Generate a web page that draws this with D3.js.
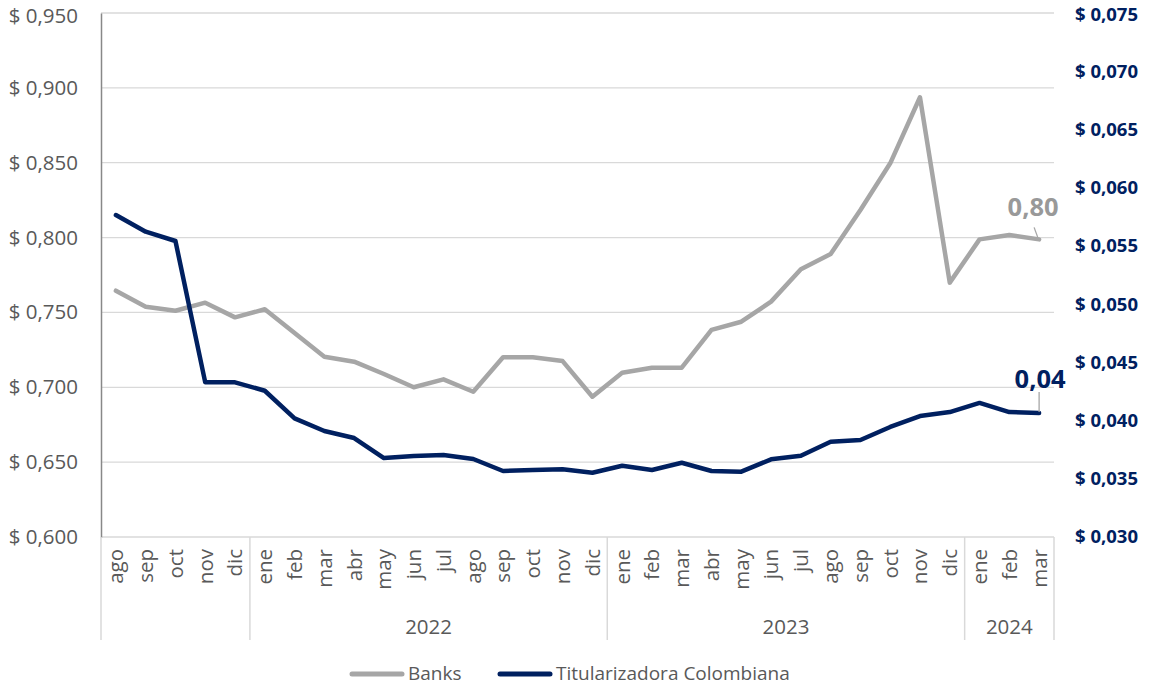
<!DOCTYPE html>
<html>
<head>
<meta charset="utf-8">
<script src="https://cdn.jsdelivr.net/npm/d3@7"></script>
<style>
  html, body { margin: 0; padding: 0; background: #fff; }
  svg { display: block; font-family: Carlito, Calibri, "Open Sans", sans-serif; }
</style>
</head>
<body>
<svg id="chart" width="1152" height="686"></svg>
<script>
// ---- Data ----
const months = ["ago","sep","oct","nov","dic",
  "ene","feb","mar","abr","may","jun","jul","ago","sep","oct","nov","dic",
  "ene","feb","mar","abr","may","jun","jul","ago","sep","oct","nov","dic",
  "ene","feb","mar"];
const yearLabels = ["", "2022", "2023", "2024"];
const yearCounts = [5, 12, 12, 3];
const banks = [0.7645,0.7538,0.7511,0.7565,0.7467,
  0.7521,0.7363,0.7204,0.7171,0.7089,0.7000,0.7053,0.6970,0.7200,0.7200,0.7175,0.6937,
  0.7097,0.7131,0.7131,0.7383,0.7438,0.7572,0.7788,0.7890,0.8184,0.8496,0.8937,0.7699,
  0.7988,0.8017,0.7988];
const titularizadora = [0.05765,0.05622,0.05542,0.04328,0.04328,
  0.04256,0.04019,0.03910,0.03850,0.03678,0.03696,0.03704,0.03670,0.03567,0.03575,0.03581,0.03552,
  0.03612,0.03575,0.03638,0.03567,0.03561,0.03667,0.03698,0.03818,0.03833,0.03945,0.04039,0.04073,
  0.04151,0.04073,0.04065];
const leftTicks = [0.600,0.650,0.700,0.750,0.800,0.850,0.900,0.950];
const rightTicks = [0.030,0.035,0.040,0.045,0.050,0.055,0.060,0.065,0.070,0.075];
const seriesNames = ["Banks", "Titularizadora Colombiana"];
const lastLabels = ["0,80", "0,04"];

// ---- Layout ----
const svg = d3.select("#chart");
const L = 101, R = 1054, T = 13, B = 537;
const colBanks = "#a6a6a6", colTit = "#002060", txt = "#595959", grid = "#d9d9d9";
const fs = 20.5;

const x = d3.scaleBand().domain(d3.range(months.length)).range([L, R]).padding(0);
const yL = d3.scaleLinear().domain([0.600, 0.950]).range([B, T]);
const yR = d3.scaleLinear().domain([0.030, 0.075]).range([B, T]);
const fmt = v => "$ " + d3.format(".3f")(v).replace(".", ",");

// gridlines
svg.append("g").selectAll("line").data(leftTicks).join("line")
  .attr("x1", L).attr("x2", R)
  .attr("y1", d => yL(d)).attr("y2", d => yL(d))
  .attr("stroke", grid).attr("stroke-width", 1.3);

// left axis
const gL = svg.append("g").attr("transform", `translate(${L},0)`)
  .call(d3.axisLeft(yL).tickValues(leftTicks).tickFormat(fmt).tickSize(0).tickPadding(23));
gL.select(".domain").attr("stroke", "#888").attr("stroke-width", 1.5);
gL.selectAll("text").attr("fill", txt).style("font-size", fs + "px").style("font-family", "'Open Sans', sans-serif")
  .attr("dy", d => d === 0.950 ? "0.45em" : "0.32em");

// right axis
const gR = svg.append("g").attr("transform", `translate(${R},0)`)
  .call(d3.axisRight(yR).tickValues(rightTicks).tickFormat(fmt).tickSize(0).tickPadding(21));
gR.select(".domain").remove();
gR.selectAll("text").attr("fill", colTit).style("font-size", "18.5px").style("font-weight", "bold")
  .style("font-family", "'Open Sans', sans-serif")
  .attr("dy", d => d === 0.075 ? "0.42em" : "0.32em");

// category axis separators
const bounds = [0];
yearCounts.reduce((acc, c) => { bounds.push(acc + c); return acc + c; }, 0);
svg.append("g").selectAll("line").data(bounds).join("line")
  .attr("x1", i => i < months.length ? x(i) : R)
  .attr("x2", i => i < months.length ? x(i) : R)
  .attr("y1", B).attr("y2", 640)
  .attr("stroke", grid).attr("stroke-width", 1.5);

// month labels
svg.append("g").selectAll("text").data(months).join("text")
  .attr("transform", (d, i) => `translate(${x(i) + x.bandwidth() / 2},549) rotate(-90)`)
  .attr("text-anchor", "end").attr("dy", "0.36em")
  .attr("fill", txt).style("font-size", fs + "px").style("font-family", "'Open Sans', sans-serif")
  .text(d => d);

// year labels
svg.append("g").selectAll("text").data(yearLabels).join("text")
  .attr("x", (d, k) => {
    const a = bounds[k], b = bounds[k + 1];
    const xa = x(a), xb = b < months.length ? x(b) : R;
    return (xa + xb) / 2;
  })
  .attr("y", 634).attr("text-anchor", "middle")
  .attr("fill", txt).style("font-size", fs + "px").style("font-family", "'Open Sans', sans-serif")
  .text(d => d);

// lines
const cx = i => x(i) + x.bandwidth() / 2;
svg.append("path").datum(banks)
  .attr("d", d3.line().x((d, i) => cx(i)).y(d => yL(d)))
  .attr("fill", "none").attr("stroke", colBanks).attr("stroke-width", 4.5)
  .attr("stroke-linejoin", "round").attr("stroke-linecap", "round");
svg.append("path").datum(titularizadora)
  .attr("d", d3.line().x((d, i) => cx(i)).y(d => yR(d)))
  .attr("fill", "none").attr("stroke", colTit).attr("stroke-width", 4.5)
  .attr("stroke-linejoin", "round").attr("stroke-linecap", "round");

// last data labels with leader lines
const n = months.length - 1;
const xb = cx(n), yb = yL(banks[n]);
svg.append("line").attr("x1", xb - 5).attr("y1", yb - 12).attr("x2", xb - 1).attr("y2", yb - 1)
  .attr("stroke", "#a6a6a6").attr("stroke-width", 1.3);
svg.append("text").attr("x", xb - 6).attr("y", yb - 23).attr("text-anchor", "middle")
  .attr("fill", "#999").style("font-size", "25.5px").style("font-weight", "bold")
  .style("font-family", "'Open Sans', sans-serif").text(lastLabels[0]);
const yt = yR(titularizadora[n]);
svg.append("line").attr("x1", xb).attr("y1", yt - 21).attr("x2", xb).attr("y2", yt - 1)
  .attr("stroke", "#a6a6a6").attr("stroke-width", 1.3);
svg.append("text").attr("x", xb + 1).attr("y", yt - 25).attr("text-anchor", "middle")
  .attr("fill", colTit).style("font-size", "25.5px").style("font-weight", "bold")
  .style("font-family", "'Open Sans', sans-serif").text(lastLabels[1]);

// legend
const legend = [
  { name: seriesNames[0], color: colBanks, x0: 350 },
  { name: seriesNames[1], color: colTit, x0: 498 }
];
const lg = svg.append("g");
legend.forEach(d => {
  lg.append("line").attr("x1", d.x0 + 2).attr("x2", d.x0 + 52).attr("y1", 674).attr("y2", 674)
    .attr("stroke", d.color).attr("stroke-width", 5).attr("stroke-linecap", "round");
  lg.append("text").attr("x", d.x0 + 58).attr("y", 673).attr("dy", "0.35em")
    .attr("fill", txt).style("font-size", "19px").style("font-family", "'Open Sans', sans-serif")
    .text(d.name);
});
</script>
</body>
</html>
